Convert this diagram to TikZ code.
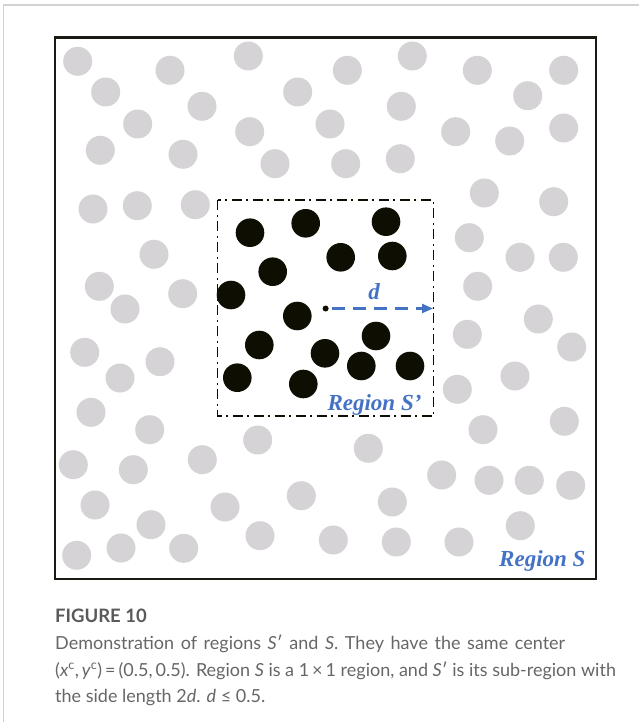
\documentclass[tikz,border=0pt]{standalone}
\usepackage{fontspec}
\setmainfont{Liberation Serif}
\newfontfamily\capfont{Lato}
\usetikzlibrary{arrows.meta}
\definecolor{cgray}{HTML}{D5D3D5}
\definecolor{cblack}{HTML}{0E0E02}
\definecolor{cblue}{HTML}{4472C4}
\definecolor{cframe}{HTML}{1A1A12}
\definecolor{ctext}{HTML}{666666}
\definecolor{chead}{HTML}{5A5A5A}
\definecolor{pageline}{HTML}{D2D2D2}
\begin{document}
\begin{tikzpicture}[x=1pt,y=-1pt,
  graydot/.style={fill=cgray},
  blackdot/.style={fill=cblack},
  outerbox/.style={draw=cframe, line width=2.4pt},
  innerbox/.style={draw=cblack, line width=1.4pt, dash pattern=on 10pt off 4.5pt on 2pt off 4.5pt},
  darrow/.style={draw=cblue, line width=2.2pt, dash pattern=on 13pt off 8pt, -{Triangle[length=11pt,width=9pt]}},
  lbl/.style={text=cblue, font=\fontsize{23}{26}\selectfont\bfseries\itshape, inner sep=0pt},
  caphead/.style={text=chead, font=\capfont\fontsize{18.5}{22}\selectfont\bfseries, inner sep=0pt, anchor=base west},
  capline/.style={text=ctext, font=\capfont\fontsize{18}{22}\selectfont, inner sep=0pt, anchor=base west}]
\useasboundingbox (0,0) rectangle (639,722);
\draw[pageline, line width=1.2pt] (3.5,722) -- (3.5,5) -- (639,5);
\draw[outerbox] (55,37.5) rectangle (596,579);
% gray particles
\foreach \x/\y in {77.7/61.3, 170/70.3, 248.3/56, 105.7/92, 202/106.3, 297.7/92, 137.7/124, 249.7/131.7, 330/124, 100.3/150.3, 183/154.3, 275/163.7, 93/209, 137.3/205.7, 195.3/204.7, 347.3/70.3, 412.3/56, 477.3/70.3, 563.7/70.3, 527.7/95.7, 401.3/106.3, 455.7/131.7, 509.7/141, 563.7/128, 345.7/163.7, 400.3/158.7, 484.3/193, 553.7/201.7,
154/254.3, 99.3/286.3, 182.7/293.7, 125/309, 84.7/352.3, 160/361.7, 120/378, 91/412.3,
469.3/237.7, 520/257.3, 563.3/257.3, 477.7/286.3, 538.3/319, 467.3/334.3, 571.7/347, 515/376, 457.3/389.3,
149.7/429.7, 257.7/440, 73.3/464.7, 133.3/469.7, 202.3/459.7, 95/505, 225/507, 301.3/495.7, 151/524.7, 260/535.7, 333.3/540, 76.7/555.3, 121/548, 183.7/548.3,
368.3/448.3, 483/429.7, 564.3/421.3, 441.7/475, 489/480.3, 529.3/480.3, 570.7/485.3, 392.3/502, 520.3/525.7, 396.3/542, 459/542}
  \fill[graydot] (\x,\y) circle[radius=14.5pt];
% black particles
\foreach \x/\y in {250/232.7, 305.7/223.3, 386/221.7, 272.7/271.7, 340.7/257.3, 392.3/256, 231/295, 297.3/316, 259.3/345, 325/353.3, 376/336, 361.3/366, 410/366, 237.3/377.7, 303.3/384}
  \fill[blackdot] (\x,\y) circle[radius=14.3pt];
\draw[innerbox] (217.5,200) rectangle (433.5,416);
\coordinate (ctr) at (325.6,308.5);
\coordinate (astart) at (331.5,308.5);
\coordinate (edge) at (433,308.5);
\fill[cblack] (ctr) circle[radius=3pt];
\draw[darrow] (astart) -- (edge);
\node[lbl, anchor=base] (dlab) at (374,299) {d};
\node[lbl, anchor=base] (rsp) at (374.5,410) {Region S’};
\node[lbl, anchor=base west] (rs) at (499,566.5) {Region S};
% caption
\node[caphead] (cap0) at (55,622.3) {FIGURE 10};
\node[capline] (cap1) at (55,649.3) {\makebox[510pt][s]{Demonstration of regions \textit{S}′ and \textit{S}. They have the same center}};
\node[capline] (cap2) at (55,676) {(\textit{x}\textsuperscript{c},\,\textit{y}\textsuperscript{c})\,=\,(0.5,\,0.5). Region \textit{S} is a 1\,×\,1 region, and \textit{S}′ is its sub-region with};
\node[capline] (cap3) at (55,702.7) {the side length 2\textit{d}. \textit{d} ≤ 0.5.};
\end{tikzpicture}
\end{document}
